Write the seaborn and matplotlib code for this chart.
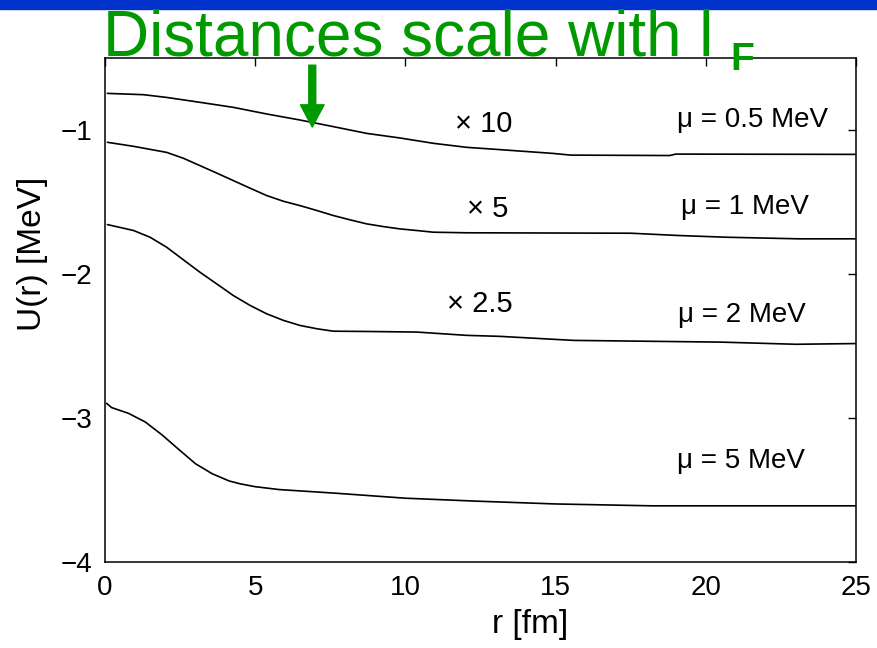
import matplotlib
matplotlib.use('Agg')
import matplotlib.pyplot as plt
from matplotlib.patches import Rectangle
import seaborn as sns

# --- data ---
r_05 = [0.08, 1.28, 2.05, 3.16, 4.27, 5.38, 6.49, 7.6, 8.71, 9.82, 10.93, 12.04, 13.15, 14.9, 15.5, 18.8, 19.0, 25]
u_05 = [-0.746, -0.755, -0.774, -0.808, -0.843, -0.889, -0.931, -0.977, -1.024, -1.056, -1.093, -1.121, -1.137,
        -1.163, -1.175, -1.178, -1.168, -1.170]

r_1 = [0.08, 0.95, 2.05, 2.61, 3.16, 3.71, 4.27, 4.83, 5.38, 5.94, 6.49, 7.05, 7.6, 8.16, 8.71, 9.27, 9.82,
       10.37, 10.93, 12.04, 17.5, 19.1, 20.7, 23.1, 25]
u_1 = [-1.086, -1.114, -1.156, -1.197, -1.248, -1.299, -1.352, -1.405, -1.456, -1.496, -1.526, -1.560, -1.595,
       -1.625, -1.653, -1.672, -1.688, -1.699, -1.711, -1.715, -1.718, -1.734, -1.746, -1.757, -1.757]

r_2 = [0.08, 0.95, 1.50, 2.05, 2.61, 3.16, 3.71, 4.27, 4.83, 5.38, 5.94, 6.49, 7.05, 7.6, 8.71, 10.37, 12.04,
       13.15, 15.6, 20.5, 23.0, 25]
u_2 = [-1.658, -1.699, -1.746, -1.815, -1.903, -1.989, -2.069, -2.151, -2.220, -2.278, -2.324, -2.359, -2.382,
       -2.399, -2.401, -2.405, -2.428, -2.435, -2.463, -2.475, -2.490, -2.485]

r_5 = [0.05, 0.22, 0.78, 1.34, 1.90, 2.45, 3.01, 3.57, 4.13, 4.5, 5.0, 5.8, 7.66, 10.0, 12.3, 15.0, 18.2, 25]
u_5 = [-2.90, -2.93, -2.97, -3.03, -3.12, -3.22, -3.32, -3.39, -3.44, -3.46, -3.48, -3.50, -3.525, -3.56, -3.58,
       -3.60, -3.613, -3.613]

curves = [(r_05, u_05), (r_1, u_1), (r_2, u_2), (r_5, u_5)]

# curve labels: (text, x, y baseline)
mu_labels = ['\u03bc = 0.5 MeV', '\u03bc = 1 MeV', '\u03bc = 2 MeV', '\u03bc = 5 MeV']
mu_x = [19.04, 19.19, 19.07, 19.03]
mu_y = [-0.982, -1.583, -2.336, -3.347]

scale_labels = ['\u00d7 10', '\u00d7 5', '\u00d7 2.5']
scale_x = [12.6, 12.73, 12.48]
scale_y = [-1.017, -1.607, -2.267]

x_ticks = [0, 5, 10, 15, 20, 25]
y_ticks = [-4, -3, -2, -1]

green = '#009900'

# --- style ---
sns.set_theme(style='white')
plt.rcParams['font.family'] = ['Liberation Sans', 'DejaVu Sans']
plt.rcParams['axes.unicode_minus'] = True

fig = plt.figure(figsize=(8.77, 6.48), dpi=100)
ax = fig.add_axes([105 / 877, 86.5 / 648, 751 / 877, 503.5 / 648])

for r, u in curves:
    sns.lineplot(x=r, y=u, color='black', linewidth=1.2, ax=ax, sort=False)

ax.set_xlim(0, 25)
ax.set_ylim(-4, -0.5)
ax.set_xticks(x_ticks)
ax.set_yticks(y_ticks)
ax.tick_params(direction='in', length=6, width=1, top=True, right=True,
               labelsize=20, colors='black', pad=9)
ax.tick_params(axis='x', pad=10)
for s in ax.spines.values():
    s.set_visible(True)
    s.set_color('black')
    s.set_linewidth(1.1)

ax.set_xlabel('r [fm]', fontsize=24, color='black')
ax.set_ylabel('U(r) [MeV]', fontsize=24, color='black')
ax.xaxis.set_label_coords(0.566, -0.095)
ax.yaxis.set_label_coords(-0.097, 0.61)
ax.xaxis.label.set_va('top')
ax.yaxis.label.set_va('center')

for t, x, y in zip(mu_labels, mu_x, mu_y):
    ax.text(x, y, t, fontsize=20, ha='left', va='baseline', color='black')
for t, x, y in zip(scale_labels, scale_x, scale_y):
    ax.text(x, y, t, fontsize=21, ha='center', va='baseline', color='black')

# green arrow pointing at the 0.5 MeV curve
ax.annotate('', xy=(6.9, -0.98), xytext=(6.9, -0.55),
            arrowprops=dict(facecolor=green, edgecolor=green, width=5, headwidth=17, headlength=16),
            annotation_clip=False)

# slide decoration: blue bar and green heading
fig.patches.append(Rectangle((0, 1 - 8.5 / 648), 1, 8.5 / 648, transform=fig.transFigure,
                             color='#0033cc', zorder=0))
fig.text(103 / 877, 1 - 55 / 648, 'Distances scale with l', fontsize=46, color=green,
         ha='left', va='baseline')
fig.text(730 / 877, 1 - 70 / 648, 'F', fontsize=28, color=green, fontweight='bold',
         ha='left', va='baseline')

fig.savefig('out.png', dpi=100)
